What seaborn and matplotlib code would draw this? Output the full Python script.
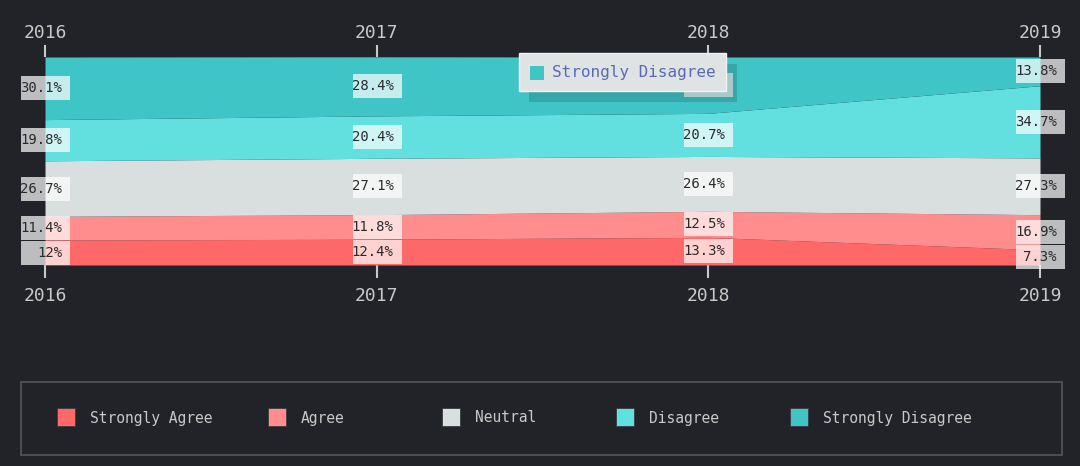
import matplotlib
matplotlib.use("Agg")
import matplotlib.pyplot as plt
from matplotlib.patches import Rectangle
import seaborn as sns

# Data (percent of answers per year)
years = [2016, 2017, 2018, 2019]
categories = ["Strongly Agree", "Agree", "Neutral", "Disagree", "Strongly Disagree"]
strongly_agree = [12.0, 12.4, 13.3, 7.3]
agree = [11.4, 11.8, 12.5, 16.9]
neutral = [26.7, 27.1, 26.4, 27.3]
disagree = [19.8, 20.4, 20.7, 34.7]
strongly_disagree = [30.1, 28.4, 27.1, 13.8]
tooltip_category = "Strongly Disagree"
tooltip_year = 2018

series = [strongly_agree, agree, neutral, disagree, strongly_disagree]
colors = ["#ff6868", "#ff8d8d", "#d9dede", "#62e0e0", "#40c5c6"]

BG = "#222328"
TXT = "#c8c8c8"
MONO = "DejaVu Sans Mono"
W, H = 1080, 466


def fx(px):
    return px / W


def fy(py):
    return 1 - py / H


sns.set_theme(style="white", rc={"figure.facecolor": BG, "axes.facecolor": BG,
                                 "savefig.facecolor": BG})
plt.rcParams["font.family"] = [MONO, "DejaVu Sans"]

fig = plt.figure(figsize=(W / 100, H / 100), dpi=100)

# plot area from x=45..1040, y=57..265 px
ax_l, ax_r, ax_t, ax_b = 45, 1040, 57, 265
ax = fig.add_axes([fx(ax_l), fy(ax_b), (ax_r - ax_l) / W, (ax_b - ax_t) / H])
ax.stackplot(years, *series, colors=colors, linewidth=0)
ax.set_xlim(years[0], years[-1])
ax.set_ylim(0, 100)
ax.set_yticks([])
for s in ax.spines.values():
    s.set_visible(False)

# year ticks, bottom and top
ax.set_xticks(years)
ax.set_xticklabels([str(y) for y in years])
ax.tick_params(axis="x", bottom=True, length=9, width=1.5, color=TXT,
               labelcolor=TXT, labelsize=13, pad=6.5, direction="out")
sec = ax.secondary_xaxis("top")
sec.set_xticks(years)
sec.set_xticklabels([str(y) for y in years])
sec.tick_params(axis="x", length=9, width=1.5, color=TXT, labelcolor=TXT,
                labelsize=13, pad=2, direction="out")
for s in sec.spines.values():
    s.set_visible(False)

# value labels in white boxes at each year
xpp = (years[-1] - years[0]) / (ax_r - ax_l)
ypp = 100 / (ax_b - ax_t)
for i, yr in enumerate(years):
    bottom = 0
    for cat, vals in zip(categories, series):
        v = vals[i]
        cy = bottom + v / 2
        bottom += v
        ax.add_patch(Rectangle((yr - 24 * xpp, cy - 12 * ypp), 49 * xpp, 24 * ypp,
                               facecolor="white", alpha=0.7, edgecolor="none",
                               clip_on=False, zorder=3))
        # this label sits under the hover tooltip, so its text is not visible
        if yr == tooltip_year and cat == tooltip_category:
            continue
        ax.text(yr + 17 * xpp, cy, f"{v:g}%", ha="right", va="center",
                fontsize=10, color="#2a2a2a", family=MONO, zorder=4, clip_on=False)

# hover tooltip over 2018
fig.add_artist(Rectangle((fx(529), fy(102)), 208 / W, 38 / H, transform=fig.transFigure,
                         facecolor="black", alpha=0.15, edgecolor="none", zorder=5))
fig.add_artist(Rectangle((fx(519), fy(91)), 207 / W, 38 / H, transform=fig.transFigure,
                         facecolor="#dfe3e3", edgecolor="#f2f4f4", lw=1, zorder=6))
fig.add_artist(Rectangle((fx(530), fy(80)), 14 / W, 14 / H, transform=fig.transFigure,
                         facecolor=colors[categories.index(tooltip_category)],
                         edgecolor="none", zorder=7))
fig.text(fx(552), fy(72), tooltip_category, ha="left", va="center", fontsize=11.5,
         color="#5a6ab4", family=MONO, zorder=7)

# legend box
fig.add_artist(Rectangle((fx(21), fy(455)), (1062 - 21) / W, (455 - 382) / H,
                         transform=fig.transFigure, facecolor="none",
                         edgecolor="#55565b", lw=1.2, zorder=2))
sq_x = [57, 268, 442, 616, 790]
for cat, col, px in zip(categories, colors, sq_x):
    fig.add_artist(Rectangle((fx(px), fy(426)), 18 / W, 18 / H, transform=fig.transFigure,
                             facecolor=col, edgecolor="#3a3b40", lw=0.6, zorder=3))
    fig.text(fx(px + 33), fy(418), cat, ha="left", va="center", fontsize=10.5,
             color=TXT, family=MONO)

fig.savefig("out.png", dpi=100)
